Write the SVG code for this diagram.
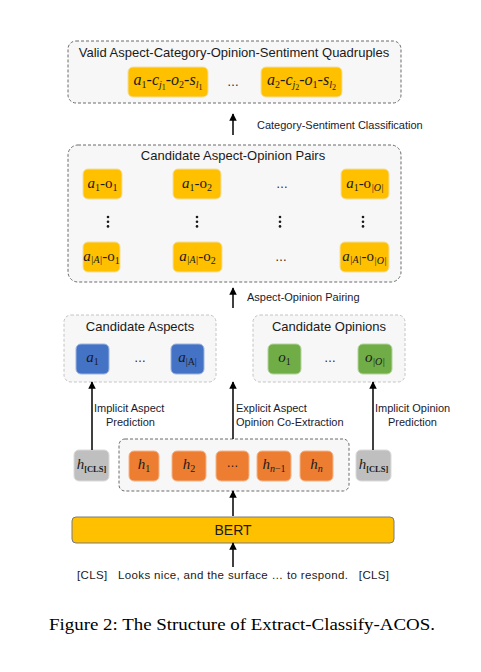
<svg xmlns="http://www.w3.org/2000/svg" width="481" height="672" viewBox="0 0 481 672">
<style>
.cont{fill:#F7F7F7;stroke:#6b6b6b;stroke-width:1;stroke-dasharray:3,2}
.cont2{fill:#F7F7F7;stroke:#c4c4c4;stroke-width:1;stroke-dasharray:3,2}
.gold{fill:#FFC000;stroke:#F3DFA0;stroke-width:1}
.blue{fill:#4472C4;stroke:#9CB4E0;stroke-width:1}
.green{fill:#70AD47;stroke:#B3D49C;stroke-width:1}
.orng{fill:#ED7D31;stroke:#F5B48A;stroke-width:1}
.gray{fill:#BFBFBF;stroke:#DADADA;stroke-width:1}
.ttl{font-family:"Liberation Sans",Arial,sans-serif;font-size:13px;fill:#1a1a1a;text-anchor:middle}
.lbl{font-family:"Liberation Sans",Arial,sans-serif;font-size:11px;fill:#1a1a2e}
.m{font-family:"Liberation Serif","Times New Roman",serif;font-size:15px;font-style:italic;fill:#1a1a1a;text-anchor:middle}
.q{font-size:16px}
.up{font-style:normal}
.s{font-size:10px}
.ss{font-size:8px}
.cls{font-size:8.5px;font-weight:bold;font-style:normal}
.dots{font-family:"Liberation Sans",Arial,sans-serif;font-size:12px;fill:#1a1a1a;text-anchor:middle}
.conn{stroke:#000;stroke-width:1.5;fill:none;marker-end:url(#ah)}
</style>
<defs>
<marker id="ah" viewBox="0 0 10 10" refX="9" refY="5" markerWidth="5" markerHeight="5" orient="auto" markerUnits="strokeWidth">
<path d="M0,0 L10,5 L0,10 z" fill="#000"/>
</marker>
</defs>

<g id="quadruples">
<rect class="cont" x="68" y="41" width="333" height="62" rx="8"/>
<text class="ttl" x="234" y="57">Valid Aspect-Category-Opinion-Sentiment Quadruples</text>
<rect class="gold" x="128" y="67" width="80" height="30" rx="5"/>
<text class="m q" x="168" y="85">a<tspan class="s up" dy="3">1</tspan><tspan class="up" dy="-3">-</tspan>c<tspan class="s" dy="3">j</tspan><tspan class="ss up" dy="2">1</tspan><tspan class="up" dy="-5">-</tspan>o<tspan class="s up" dy="3">2</tspan><tspan class="up" dy="-3">-</tspan>s<tspan class="s" dy="3">l</tspan><tspan class="ss up" dy="2">1</tspan></text>
<text class="dots" x="233" y="86">…</text>
<rect class="gold" x="261" y="67" width="81" height="30" rx="5"/>
<text class="m q" x="301.5" y="85">a<tspan class="s up" dy="3">2</tspan><tspan class="up" dy="-3">-</tspan>c<tspan class="s" dy="3">j</tspan><tspan class="ss up" dy="2">2</tspan><tspan class="up" dy="-5">-</tspan>o<tspan class="s up" dy="3">1</tspan><tspan class="up" dy="-3">-</tspan>s<tspan class="s" dy="3">l</tspan><tspan class="ss up" dy="2">2</tspan></text>
</g>

<g id="pairs">
<rect class="cont" x="68" y="145" width="333" height="137" rx="10"/>
<text class="ttl" x="233" y="159.5">Candidate Aspect-Opinion Pairs</text>
<rect class="gold" x="83" y="169" width="39" height="30" rx="5"/>
<text class="m" x="102.5" y="188">a<tspan class="s up" dy="3">1</tspan><tspan class="up" dy="-3">-o</tspan><tspan class="s up" dy="3">1</tspan></text>
<rect class="gold" x="173" y="169" width="48" height="30" rx="5"/>
<text class="m" x="197" y="188">a<tspan class="s up" dy="3">1</tspan><tspan class="up" dy="-3">-o</tspan><tspan class="s up" dy="3">2</tspan></text>
<text class="dots" x="282" y="188">…</text>
<rect class="gold" x="341" y="169" width="48" height="30" rx="5"/>
<text class="m" x="365" y="188">a<tspan class="s up" dy="3">1</tspan><tspan class="up" dy="-3">-o</tspan><tspan class="s" dy="3">|O|</tspan></text>
<g fill="#1a1a1a">
<circle cx="108" cy="217" r="1.3"/><circle cx="108" cy="221.7" r="1.3"/><circle cx="108" cy="226.4" r="1.3"/>
<circle cx="197" cy="217" r="1.3"/><circle cx="197" cy="221.7" r="1.3"/><circle cx="197" cy="226.4" r="1.3"/>
<circle cx="280" cy="217" r="1.3"/><circle cx="280" cy="221.7" r="1.3"/><circle cx="280" cy="226.4" r="1.3"/>
<circle cx="363" cy="217" r="1.3"/><circle cx="363" cy="221.7" r="1.3"/><circle cx="363" cy="226.4" r="1.3"/>
</g>
<rect class="gold" x="83" y="242" width="37" height="30" rx="5"/>
<text class="m" x="101.5" y="261">a<tspan class="s" dy="2">|A|</tspan><tspan class="up" dy="-2">-o</tspan><tspan class="s up" dy="3">1</tspan></text>
<rect class="gold" x="173" y="242" width="49" height="30" rx="5"/>
<text class="m" x="197.5" y="261">a<tspan class="s" dy="2">|A|</tspan><tspan class="up" dy="-2">-o</tspan><tspan class="s up" dy="3">2</tspan></text>
<text class="dots" x="281" y="261">…</text>
<rect class="gold" x="340" y="242" width="49" height="30" rx="5"/>
<text class="m" x="364.5" y="261">a<tspan class="s" dy="2">|A|</tspan><tspan class="up" dy="-2">-o</tspan><tspan class="s" dy="3">|O|</tspan></text>
</g>

<g id="candidate-aspects">
<rect class="cont2" x="64" y="315" width="152" height="67" rx="7"/>
<text class="ttl" x="140" y="330.5">Candidate Aspects</text>
<rect class="blue" x="76" y="344" width="33" height="30" rx="5"/>
<text class="m" x="92.5" y="362">a<tspan class="s up" dy="3">1</tspan></text>
<text class="dots" x="140" y="362">…</text>
<rect class="blue" x="171" y="344" width="33" height="30" rx="5"/>
<text class="m" x="187.5" y="362">a<tspan class="s up" dy="3">|A|</tspan></text>
</g>

<g id="candidate-opinions">
<rect class="cont2" x="253" y="315" width="152" height="67" rx="7"/>
<text class="ttl" x="329" y="330.5">Candidate Opinions</text>
<rect class="green" x="268" y="344" width="33" height="30" rx="5"/>
<text class="m" x="284.5" y="362">o<tspan class="s up" dy="3">1</tspan></text>
<text class="dots" x="330" y="362">…</text>
<rect class="green" x="358" y="344" width="34" height="30" rx="5"/>
<text class="m" x="375" y="362">o<tspan class="s" dy="3">|O|</tspan></text>
</g>

<g id="h-cls-left">
<rect class="gray" x="74" y="450" width="35" height="31" rx="5"/>
<text class="m" x="91.5" y="469">h<tspan class="cls" dy="3">[CLS]</tspan></text>
</g>

<g id="hidden-states">
<rect class="cont" x="119" y="439" width="230" height="52" rx="6"/>
<rect class="orng" x="129" y="451" width="30" height="30" rx="5"/>
<text class="m" x="144" y="469">h<tspan class="s up" dy="3">1</tspan></text>
<rect class="orng" x="172" y="451" width="34" height="30" rx="5"/>
<text class="m" x="189" y="469">h<tspan class="s up" dy="3">2</tspan></text>
<rect class="orng" x="216" y="451" width="33" height="30" rx="5"/>
<text class="dots" x="232.5" y="467">…</text>
<rect class="orng" x="257" y="451" width="34" height="30" rx="5"/>
<text class="m" x="274" y="469">h<tspan class="s" dy="3">n</tspan><tspan class="s up">−1</tspan></text>
<rect class="orng" x="300" y="451" width="33" height="30" rx="5"/>
<text class="m" x="316.5" y="469">h<tspan class="s" dy="3">n</tspan></text>
</g>

<g id="h-cls-right">
<rect class="gray" x="356" y="450" width="35" height="31" rx="5"/>
<text class="m" x="373.5" y="469">h<tspan class="cls" dy="3">[CLS]</tspan></text>
</g>

<g id="bert">
<rect x="72" y="517" width="322" height="26" rx="4" fill="#FFC000" stroke="#7a7a7a" stroke-width="1"/>
<text x="233" y="535" font-family="Liberation Sans,Arial,sans-serif" font-size="14" fill="#1a1a1a" text-anchor="middle">BERT</text>
</g>

<g id="input">
<text x="77" y="579" font-family="Liberation Sans,Arial,sans-serif" font-size="11.5" fill="#1a1a1a" textLength="312" lengthAdjust="spacing" xml:space="preserve">[CLS]   Looks nice, and the surface … to respond.   [CLS]</text>
</g>

<g id="connectors">
<line class="conn" x1="233" y1="135" x2="233" y2="114"/>
<line class="conn" x1="233" y1="308" x2="233" y2="288"/>
<line class="conn" x1="92" y1="450" x2="92" y2="382"/>
<line class="conn" x1="233" y1="439" x2="233" y2="382"/>
<line class="conn" x1="373" y1="450" x2="373" y2="382"/>
<line class="conn" x1="233" y1="516" x2="233" y2="491"/>
<line class="conn" x1="233" y1="567" x2="233" y2="543"/>
<text class="lbl" x="257" y="129">Category-Sentiment Classification</text>
<text class="lbl" x="247" y="301">Aspect-Opinion Pairing</text>
<text class="lbl" x="94" y="412">Implicit Aspect</text>
<text class="lbl" x="106" y="426">Prediction</text>
<text class="lbl" x="236" y="412">Explicit Aspect</text>
<text class="lbl" x="236" y="426">Opinion Co-Extraction</text>
<text class="lbl" x="375" y="412">Implicit Opinion</text>
<text class="lbl" x="388" y="426">Prediction</text>
</g>

<text x="49" y="630" font-family="Liberation Serif,Times New Roman,serif" font-size="17" fill="#000" textLength="386" lengthAdjust="spacingAndGlyphs">Figure 2: The Structure of Extract-Classify-ACOS.</text>
</svg>
